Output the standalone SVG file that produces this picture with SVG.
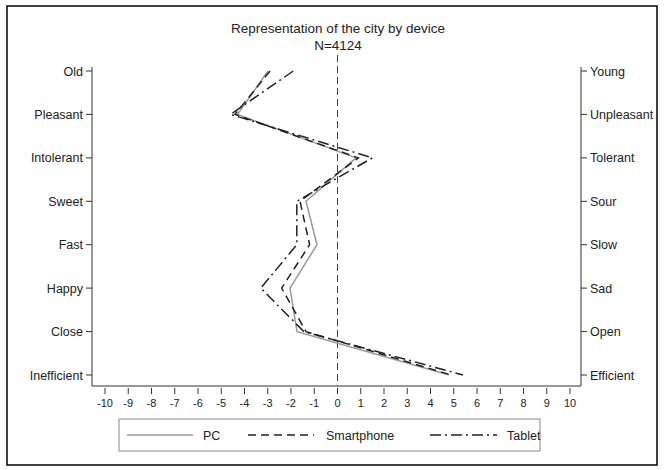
<svg xmlns="http://www.w3.org/2000/svg" width="666" height="470" viewBox="0 0 666 470">
<style>
text{font-family:"Liberation Sans",Arial,sans-serif;fill:#222}
.lbl{font-size:12.5px}
.ttl{font-size:13.5px;text-anchor:middle}
.tk{font-size:11px;text-anchor:middle}
.ax{stroke:#333;stroke-width:1;fill:none}
.pc{stroke:#9a9a9a;stroke-width:1.5;fill:none}
.sp{stroke:#222;stroke-width:1.5;fill:none;stroke-dasharray:8 5}
.tb{stroke:#222;stroke-width:1.5;fill:none;stroke-dasharray:11 4 2 4}
</style>
<rect x="0" y="0" width="666" height="470" fill="#fff"/>
<rect x="7" y="6" width="650" height="459" fill="none" stroke="#000" stroke-width="1.5"/>
<g id="title">
<text x="338" y="33" class="ttl">Representation of the city by device</text>
<text x="338" y="50" class="ttl">N=4124</text>
</g>
<g id="axes">
<path class="ax" d="M92,67 V386 H581 V67"/>
<path class="ax" d="M86,71 H92 M86,114.4 H92 M86,157.9 H92 M86,201.3 H92 M86,244.7 H92 M86,288.1 H92 M86,331.6 H92 M86,375 H92"/>
<path class="ax" d="M581,71 H587 M581,114.4 H587 M581,157.9 H587 M581,201.3 H587 M581,244.7 H587 M581,288.1 H587 M581,331.6 H587 M581,375 H587"/>
<path class="ax" d="M105,388 v6 M128.25,388 v6 M151.5,388 v6 M174.75,388 v6 M198,388 v6 M221.25,388 v6 M244.5,388 v6 M267.75,388 v6 M291,388 v6 M314.25,388 v6 M337.5,388 v6 M360.75,388 v6 M384,388 v6 M407.25,388 v6 M430.5,388 v6 M453.75,388 v6 M477,388 v6 M500.25,388 v6 M523.5,388 v6 M546.75,388 v6 M570,388 v6"/>
<line x1="337.5" y1="55" x2="337.5" y2="386" stroke="#444" stroke-width="1" stroke-dasharray="7 4"/>
</g>
<g id="left-labels" class="lbl" text-anchor="end">
<text x="83" y="75.5">Old</text>
<text x="83" y="118.9">Pleasant</text>
<text x="83" y="162.4">Intolerant</text>
<text x="83" y="205.8">Sweet</text>
<text x="83" y="249.2">Fast</text>
<text x="83" y="292.6">Happy</text>
<text x="83" y="336.1">Close</text>
<text x="83" y="379.5">Inefficient</text>
</g>
<g id="right-labels" class="lbl">
<text x="590" y="75.5">Young</text>
<text x="590" y="118.9">Unpleasant</text>
<text x="590" y="162.4">Tolerant</text>
<text x="590" y="205.8">Sour</text>
<text x="590" y="249.2">Slow</text>
<text x="590" y="292.6">Sad</text>
<text x="590" y="336.1">Open</text>
<text x="590" y="379.5">Efficient</text>
</g>
<g id="x-ticks" class="tk">
<text x="105" y="407">-10</text><text x="128.25" y="407">-9</text><text x="151.5" y="407">-8</text><text x="174.75" y="407">-7</text><text x="198" y="407">-6</text><text x="221.25" y="407">-5</text><text x="244.5" y="407">-4</text><text x="267.75" y="407">-3</text><text x="291" y="407">-2</text><text x="314.25" y="407">-1</text><text x="337.5" y="407">0</text><text x="360.75" y="407">1</text><text x="384" y="407">2</text><text x="407.25" y="407">3</text><text x="430.5" y="407">4</text><text x="453.75" y="407">5</text><text x="477" y="407">6</text><text x="500.25" y="407">7</text><text x="523.5" y="407">8</text><text x="546.75" y="407">9</text><text x="570" y="407">10</text>
</g>
<g id="series">
<polyline id="pc" class="pc" points="268,71 237.5,114.4 356,157.9 306,201.3 317,244.7 290,288.1 297,331.6 449,375"/>
<polyline id="smartphone" class="sp" points="270,71 235,114.4 358.4,157.9 300,201.3 309.6,244.7 281.7,288.1 306,331.6 451.4,375"/>
<polyline id="tablet" class="tb" points="293.3,71 230.5,114.4 372.4,157.9 296.8,201.3 296.8,244.7 260.8,288.1 303.8,331.6 463,375"/>
</g>
<g id="legend">
<rect x="119" y="419" width="421" height="32" fill="none" stroke="#888" stroke-width="1"/>
<line x1="127" y1="435" x2="193" y2="435" class="pc"/>
<text x="203" y="440" class="lbl">PC</text>
<line x1="248" y1="435" x2="314" y2="435" class="sp"/>
<text x="326" y="440" class="lbl">Smartphone</text>
<line x1="430" y1="435" x2="497" y2="435" class="tb"/>
<text x="507" y="440" class="lbl">Tablet</text>
</g>
</svg>
